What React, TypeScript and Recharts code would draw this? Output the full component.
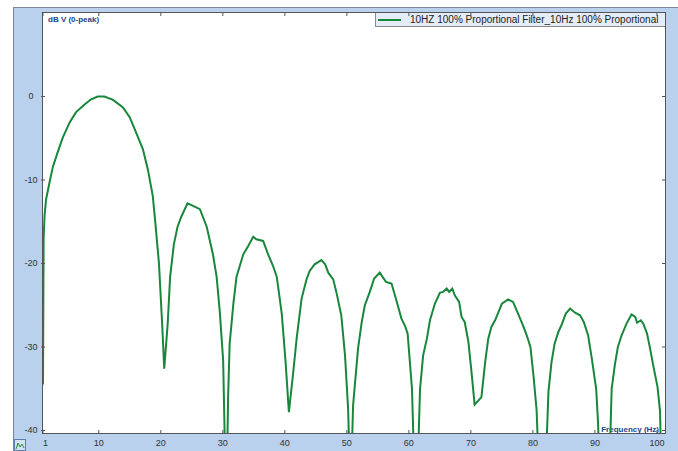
import React from "react";
import { LineChart, Line, XAxis, YAxis } from "recharts";

// Frequency (Hz) and level (dB V, 0-peak)
const freqHz: number[] = [
  1.0, 1.1, 1.25, 1.5, 2.05, 2.6, 3.4, 4.2, 5.3, 6.3, 7.7, 8.7, 9.8, 10.9, 12.3, 13.9, 15, 16, 17.1, 17.9,
  18.7, 19.1, 19.7, 20.2, 20.55, 21.1, 21.5, 22.1, 22.7, 23.3, 24.3, 25.2, 26.3, 27.4, 28.4, 29, 29.5, 30.05,
  30.55, 30.85, 31.1, 31.7, 32.2, 33.3, 34.1, 34.9, 35.4, 36.5, 37.3, 38.1, 38.7, 39.5, 40.1, 40.65, 41.3,
  41.9, 42.7, 43.5, 44, 44.8, 45.9, 46.5, 47, 47.8, 48.3, 49.1, 49.7, 50.2, 50.6, 51.0, 51.8, 52.4, 52.9,
  53.7, 54.4, 55.3, 56.3, 57.2, 57.9, 58.8, 59.4, 59.8, 60.5, 61.0, 61.4, 61.8, 62.3, 62.9, 63.4, 64.2, 65,
  65.5, 66.1, 66.5, 67, 67.4, 68.1, 68.5, 69, 69.6, 70.1, 70.6, 71.7, 72.3, 72.8, 73.3, 73.9, 75, 76, 76.8,
  77.6, 78.4, 79, 79.6, 80.1, 80.6, 81.1, 81.9, 82.5, 83, 83.5, 84.1, 84.6, 85.3, 86, 86.8, 87.6, 88.2, 88.9,
  89.5, 90.2, 90.5, 90.9, 92.2, 92.7, 93.2, 93.7, 94.3, 95.1, 95.9, 96.5, 96.8, 97.4, 97.8, 98.4, 98.9, 99.4,
  100.1, 100.5, 100.8,
];

const levelDb: number[] = [
  -34.5, -17, -14.3, -12.3, -10.3, -8.4, -6.6, -4.9, -3.1, -1.9, -0.96, -0.36, 0, 0, -0.4, -1.3, -2.5, -4.3, -6.3, -8.7,
  -11.9, -15, -20, -27, -32.6, -27.3, -21.6, -17.7, -15.6, -14.4, -12.8, -13.1, -13.5, -15.6, -18.9, -21.6, -25.7, -31.6,
  -50, -36, -29.6, -24.8, -21.6, -18.9, -17.9, -16.8, -17.1, -17.3, -18.9, -20.3, -21.6, -26, -31.6, -37.8, -33.4,
  -29, -24.2, -21.9, -20.9, -20.1, -19.6, -20.1, -21.1, -21.9, -23.4, -26.2, -31, -37.4, -48, -37, -30.2, -27, -25,
  -23.4, -21.8, -21.1, -22.2, -22.4, -24.2, -26.6, -27.5, -28.4, -35, -48, -45, -35, -31, -29, -26.8, -24.8, -23.5,
  -23.4, -23, -23.4, -23, -23.8, -24.6, -26.4, -27, -29.4, -33, -36.9, -36, -31.8, -29, -27.6, -26.8, -24.8, -24.3, -24.6,
  -26, -27.4, -28.6, -30, -33.5, -37.6, -48, -48, -35.4, -31.8, -29.6, -28.2, -27.4, -26, -25.4, -25.9, -26.2, -27, -28.6,
  -31.4, -35, -39, -48, -48, -35, -32.2, -30, -28.6, -27.2, -26.1, -26.4, -27.1, -26.8, -27.2, -28.4, -30.2, -32.2,
  -34.8, -37.7, -48,
];

const xTicks: number[] = [1, 10, 20, 30, 40, 50, 60, 70, 80, 90, 100];
const yTicks: number[] = [-40, -30, -20, -10, 0];

const seriesName = "10HZ 100% Proportional Filter_10Hz 100% Proportional";
const yTitle = "dB V (0-peak)";
const xTitle = "Frequency (Hz)";

const data = freqHz.map((f, i) => ({ f, db: levelDb[i] }));

const W = 678;
const H = 451;
const PLOT_LEFT = 43;
const PLOT_TOP = 13;
const PLOT_RIGHT = 665;
const PLOT_BOTTOM = 433;
const FONT = "'Liberation Sans', Arial, sans-serif";
const GREEN = "#17873b";
const NAVY = "#233f8e";

const XTick = (props: any) => {
  const { x, payload } = props;
  const v = payload.value;
  const dx = v === 1 ? 2.5 : 0;
  return (
    <g>
      <line x1={x} x2={x} y1={PLOT_BOTTOM - 3} y2={PLOT_BOTTOM} stroke="#555" strokeWidth={1} />
      <line x1={x} x2={x} y1={PLOT_TOP} y2={PLOT_TOP + 3} stroke="#555" strokeWidth={1} />
      <text x={x + dx} y={PLOT_BOTTOM + 13} textAnchor="middle" fontSize={9} fill="#333" fontFamily={FONT}>
        {v}
      </text>
    </g>
  );
};

const YTick = (props: any) => {
  const { y, payload } = props;
  const v = payload.value;
  return (
    <g>
      <line x1={PLOT_LEFT - 2} x2={PLOT_LEFT + 2} y1={y} y2={y} stroke="#555" strokeWidth={1} />
      <line x1={PLOT_RIGHT - 3} x2={PLOT_RIGHT} y1={y} y2={y} stroke="#555" strokeWidth={1} />
      <text x={31} y={y + 3} textAnchor="middle" fontSize={9} fill="#333" fontFamily={FONT}>
        {v}
      </text>
    </g>
  );
};

export default function App() {
  return (
    <div style={{ position: "absolute", left: 0, top: 0, width: W, height: H, overflow: "hidden", background: "#fff" }}>
      {/* outer panel */}
      <div
        style={{
          position: "absolute",
          left: 13,
          top: 7,
          width: W - 13,
          height: H - 7,
          boxSizing: "border-box",
          background: "#b9d1ec",
          borderTop: "1px solid #7b8797",
          borderLeft: "1px solid #7b8797",
        }}
      />
      {/* plot area */}
      <div
        style={{
          position: "absolute",
          left: PLOT_LEFT - 1,
          top: PLOT_TOP - 1,
          width: PLOT_RIGHT - PLOT_LEFT + 2,
          height: PLOT_BOTTOM - PLOT_TOP + 2,
          boxSizing: "border-box",
          background: "#fff",
          border: "1px solid #555",
        }}
      />
      {/* legend */}
      <div
        style={{
          position: "absolute",
          left: 375,
          top: PLOT_TOP,
          width: PLOT_RIGHT - 375,
          height: 14,
          boxSizing: "border-box",
          background: "#e3ecf7",
          borderLeft: "1px solid #8a8a8a",
          borderBottom: "1px solid #8a8a8a",
          fontFamily: FONT,
          fontSize: 10,
          color: "#222",
          whiteSpace: "nowrap",
        }}
      >
        <div style={{ position: "absolute", left: 2, top: 6, width: 23, height: 2, background: GREEN }} />
        <div style={{ position: "absolute", left: 34, top: 0, lineHeight: "13px" }}>{seriesName}</div>
      </div>
      {/* small icon bottom-left */}
      <svg style={{ position: "absolute", left: 14, top: 439 }} width={12} height={12}>
        <rect x={0.5} y={0.5} width={11} height={11} fill="#d4e3f4" stroke="#5a7db0" />
        <polyline points="2,10 4,4 6,8 8,5 10,9" fill="none" stroke="#2a8a3a" strokeWidth={1} />
      </svg>
      <div style={{ position: "absolute", left: 0, top: 0 }}>
        <LineChart
          width={W}
          height={H}
          data={data}
          margin={{ top: PLOT_TOP, right: W - PLOT_RIGHT, bottom: 0, left: 0 }}
        >
          <XAxis
            dataKey="f"
            type="number"
            domain={[1, 101.3]}
            ticks={xTicks}
            interval={0}
            allowDataOverflow
            axisLine={false}
            tickLine={false}
            tickSize={0}
            tickMargin={0}
            height={H - PLOT_BOTTOM}
            tick={<XTick />}
          />
          <YAxis
            type="number"
            domain={[-40.3, 10]}
            ticks={yTicks}
            interval={0}
            allowDataOverflow
            axisLine={false}
            tickLine={false}
            width={PLOT_LEFT}
            tick={<YTick />}
          />
          <Line
            type="linear"
            dataKey="db"
            stroke={GREEN}
            strokeWidth={2}
            dot={false}
            isAnimationActive={false}
          />
          <text x={48} y={22} fontSize={8} fontWeight="bold" fill={NAVY} fontFamily={FONT}>
            {yTitle}
          </text>
          <text x={659} y={432} textAnchor="end" fontSize={8} fontWeight="bold" fill={NAVY} fontFamily={FONT}>
            {xTitle}
          </text>
        </LineChart>
      </div>
    </div>
  );
}
